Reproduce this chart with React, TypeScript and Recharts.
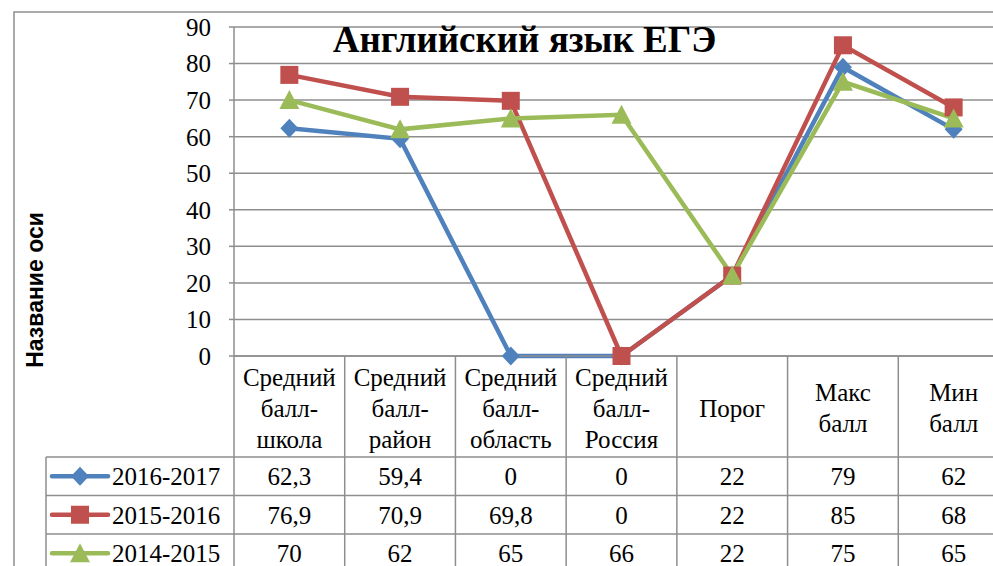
import React from 'react';
import { LineChart, Line, XAxis, YAxis, CartesianGrid } from 'recharts';

// categories (line breaks as in the source table)
const categories = [
    'Средний\nбалл-\nшкола',
    'Средний\nбалл-\nрайон',
    'Средний\nбалл-\nобласть',
    'Средний\nбалл-\nРоссия',
    'Порог',
    'Макс\nбалл',
    'Мин\nбалл',
];
const seriesNames = ['2016-2017', '2015-2016', '2014-2015'];
const values20162017 = [62.3, 59.4, 0, 0, 22, 79, 62];
const values20152016 = [76.9, 70.9, 69.8, 0, 22, 85, 68];
const values20142015 = [70, 62, 65, 66, 22, 75, 65];
const yTicks = [0, 10, 20, 30, 40, 50, 60, 70, 80, 90];
const chartTitle = 'Английский язык ЕГЭ';
const axisTitle = 'Название оси';

const seriesValues = [values20162017, values20152016, values20142015];
const seriesColors = ['#4F81BD', '#C0504D', '#9BBB59'];
const seriesShapes = ['diamond', 'square', 'triangle'];

const data = categories.map((c, i) => ({
    name: c,
    s0: seriesValues[0][i],
    s1: seriesValues[1][i],
    s2: seriesValues[2][i],
}));

const CHART_W = 1030;
const CHART_H = 600;
const PLOT_LEFT = 234;
const PLOT_W = 775;
const BAND = PLOT_W / categories.length;
const X_AXIS_H = 230;
const HEADER_H = 101;
const ROW_H = 38.5;
const LEGEND_W = 188;
const GRID = '#8e8e8e';
const SERIF = 'Liberation Serif, Times New Roman, serif';
const SANS = 'Liberation Sans, Arial, sans-serif';
const serifText = { fontFamily: SERIF, fontSize: 25 };

const fmt = (v: number) => String(v).replace('.', ',');

const Marker = ({ shape, cx, cy, color }: { shape: string; cx: number; cy: number; color: string }) => {
    if (shape === 'diamond') {
        return <polygon points={`${cx},${cy - 9.5} ${cx + 9},${cy} ${cx},${cy + 9.5} ${cx - 9},${cy}`} fill={color} />;
    }
    if (shape === 'square') {
        return <rect x={cx - 9} y={cy - 9} width={18} height={18} fill={color} />;
    }
    return <polygon points={`${cx},${cy - 10} ${cx + 10},${cy + 9} ${cx - 10},${cy + 9}`} fill={color} />;
};

// x axis tick = one column of the data table
const TableTick = (props: any) => {
    const { x, y, payload } = props;
    const i = categories.indexOf(payload.value);
    const left = x - BAND / 2;
    const right = x + BAND / 2;
    const lines = String(payload.value).split('\n');
    const rowsTop = y + HEADER_H;
    const bottom = y + X_AXIS_H;
    const lineGap = 31;

    return (
        <g>
            <line x1={right} y1={y} x2={right} y2={bottom} stroke={GRID} strokeWidth={1.5} />
            {i === 0 && <line x1={left} y1={y} x2={left} y2={bottom} stroke={GRID} strokeWidth={1.5} />}
            {lines.map((t, k) => (
                <text
                    key={k}
                    x={x}
                    y={y + HEADER_H / 2 + 10 + (k - (lines.length - 1) / 2) * lineGap}
                    textAnchor="middle"
                    style={serifText}
                    fill="#000"
                >
                    {t}
                </text>
            ))}
            {seriesValues.map((vals, r) => (
                <g key={r}>
                    <line x1={left} y1={rowsTop + r * ROW_H} x2={right} y2={rowsTop + r * ROW_H} stroke={GRID} strokeWidth={1.5} />
                    <text x={x} y={rowsTop + r * ROW_H + 28} textAnchor="middle" style={serifText} fill="#000">
                        {fmt(vals[i])}
                    </text>
                </g>
            ))}
            <line x1={left} y1={rowsTop + 3 * ROW_H} x2={right} y2={rowsTop + 3 * ROW_H} stroke={GRID} strokeWidth={1.5} />
            {i === 0 && (
                <g>
                    <line x1={left - LEGEND_W} y1={rowsTop} x2={left - LEGEND_W} y2={bottom} stroke={GRID} strokeWidth={1.5} />
                    {seriesNames.map((n, r) => {
                        const cy = rowsTop + r * ROW_H + ROW_H / 2;
                        const kx = left - LEGEND_W + 6;
                        return (
                            <g key={n}>
                                <line x1={left - LEGEND_W} y1={rowsTop + r * ROW_H} x2={left} y2={rowsTop + r * ROW_H} stroke={GRID} strokeWidth={1.5} />
                                <line x1={kx} y1={cy} x2={kx + 56} y2={cy} stroke={seriesColors[r]} strokeWidth={4.5} strokeLinecap="round" />
                                <Marker shape={seriesShapes[r]} cx={kx + 28} cy={cy} color={seriesColors[r]} />
                                <text x={kx + 60} y={rowsTop + r * ROW_H + 28} style={serifText} fill="#000">
                                    {n}
                                </text>
                            </g>
                        );
                    })}
                    <line x1={left - LEGEND_W} y1={rowsTop + 3 * ROW_H} x2={left} y2={rowsTop + 3 * ROW_H} stroke={GRID} strokeWidth={1.5} />
                </g>
            )}
        </g>
    );
};

const App: React.FC = () => {
    return (
        <div style={{ position: 'fixed', left: 0, top: 0, width: 993, height: 566, overflow: 'hidden', background: '#fff' }}>
            <div style={{ position: 'absolute', left: 0, top: 0 }}>
                <LineChart
                    width={CHART_W}
                    height={CHART_H}
                    data={data}
                    margin={{ top: 27, right: CHART_W - PLOT_LEFT - PLOT_W, left: 0, bottom: CHART_H - 356 - X_AXIS_H }}
                >
                    <CartesianGrid vertical={false} stroke={GRID} strokeWidth={1.5} />
                    <XAxis
                        dataKey="name"
                        interval={0}
                        height={X_AXIS_H}
                        tickSize={0}
                        tickMargin={0}
                        tickLine={false}
                        axisLine={{ stroke: GRID, strokeWidth: 1.5 }}
                        padding={{ left: BAND / 2, right: BAND / 2 }}
                        tick={<TableTick />}
                    />
                    <YAxis
                        width={PLOT_LEFT}
                        domain={[0, 90]}
                        ticks={yTicks}
                        interval={0}
                        tickSize={5}
                        tickMargin={18}
                        tickLine={{ stroke: GRID, strokeWidth: 1.5 }}
                        axisLine={{ stroke: GRID, strokeWidth: 1.5 }}
                        tick={{ style: serifText, fill: '#000' }}
                    />
                    {seriesValues.map((_, s) => (
                        <Line
                            key={s}
                            type="linear"
                            dataKey={`s${s}`}
                            name={seriesNames[s]}
                            stroke={seriesColors[s]}
                            strokeWidth={4.5}
                            isAnimationActive={false}
                            dot={(p: any) => (
                                <Marker key={`m${s}-${p.index}`} shape={seriesShapes[s]} cx={p.cx} cy={p.cy} color={seriesColors[s]} />
                            )}
                            activeDot={false}
                        />
                    ))}
                </LineChart>
            </div>
            <svg width={993} height={566} style={{ position: 'absolute', left: 0, top: 0, pointerEvents: 'none' }}>
                <rect x={14} y={12} width={1100} height={700} fill="none" stroke={GRID} strokeWidth={1.5} />
                <text
                    x={524.5}
                    y={52}
                    textAnchor="middle"
                    style={{ fontFamily: SERIF, fontWeight: 'bold', fontSize: 37 }}
                    fill="#000"
                >
                    {chartTitle}
                </text>
                <text
                    transform="translate(43, 290) rotate(-90)"
                    textAnchor="middle"
                    style={{ fontFamily: SANS, fontWeight: 'bold', fontSize: 23 }}
                    fill="#000"
                >
                    {axisTitle}
                </text>
            </svg>
        </div>
    );
};

export default App;
